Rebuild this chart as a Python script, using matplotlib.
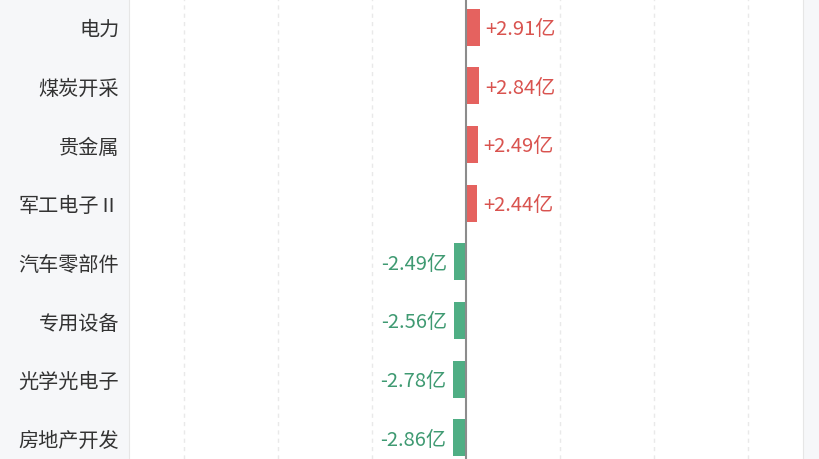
import numpy as np
import matplotlib.pyplot as plt

plt.rcParams['font.family'] = ['Noto Sans CJK SC', 'DejaVu Sans']

# 行业资金净流入（亿）
industries = ['电力', '煤炭开采', '贵金属', '军工电子Ⅱ',
              '汽车零部件', '专用设备', '光学光电子', '房地产开发']
net_flow = [2.91, 2.84, 2.49, 2.44, -2.49, -2.56, -2.78, -2.86]

red_bar, green_bar = '#e5625f', '#4fae84'
red_txt, green_txt = '#d9534f', '#3f9a72'

fig = plt.figure(figsize=(8.2, 4.6), dpi=100, facecolor='#f6f7f9')
ax = fig.add_axes([129 / 820, 0, 674 / 820, 1])
ax.set_facecolor('white')

y = np.arange(len(industries))
colors = [red_bar if v > 0 else green_bar for v in net_flow]
ax.barh(y, net_flow, height=0.63, color=colors, zorder=3)

for yi, v in zip(y, net_flow):
    if v > 0:
        ax.text(v + 1.2, yi + 0.02, f'+{v:.2f}亿', va='center', ha='left',
                color=red_txt, fontsize=14.5, zorder=4)
    else:
        ax.text(v - 1.4, yi + 0.02, f'{v:.2f}亿', va='center', ha='right',
                color=green_txt, fontsize=14.5, zorder=4)

ax.set_xlim(-71.7, 71.7)
ax.set_ylim(7.36, -0.48)
ax.set_xticks([-60, -40, -20, 20, 40, 60])
ax.xaxis.grid(True, linestyle=(0, (3, 3)), color='#e9e9e9', linewidth=1, zorder=0)
ax.axvline(0, color='#8c8c8c', linewidth=1.5, zorder=5)
ax.tick_params(axis='x', length=0, labelbottom=False)

ax.set_yticks(y)
ax.set_yticklabels(industries, fontsize=14.5, color='#333333')
ax.tick_params(axis='y', length=0, pad=7)

for side in ['top', 'bottom']:
    ax.spines[side].set_visible(False)
for side in ['left', 'right']:
    ax.spines[side].set_color('#e6e6e6')

fig.savefig('out.png', dpi=100, facecolor=fig.get_facecolor())
